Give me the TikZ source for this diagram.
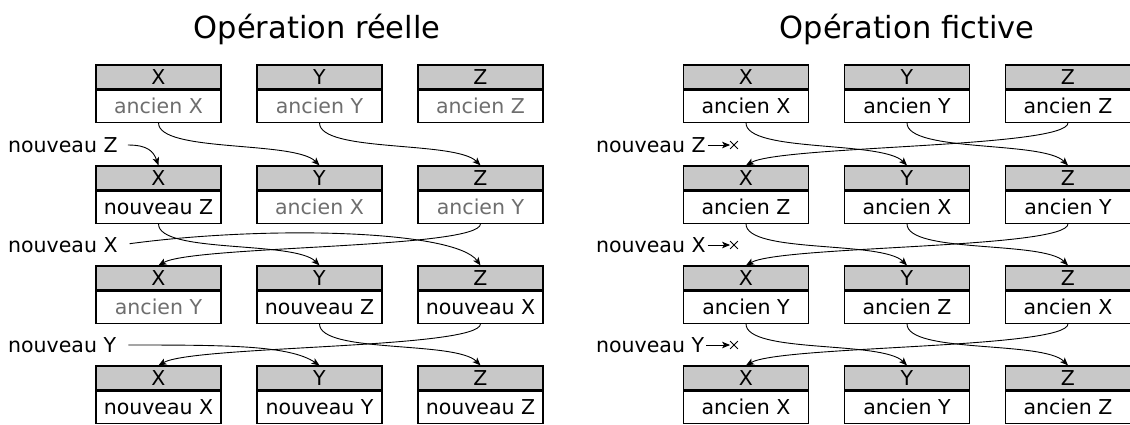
\documentclass[tikz,border=0pt]{standalone}
\usepackage{fontspec}
\setmainfont{DejaVu Sans}
\usetikzlibrary{positioning,arrows.meta,shapes.misc}
\definecolor{fondtete}{RGB}{200,200,200}
\definecolor{gristexte}{RGB}{110,110,110}
\newcommand{\vieux}[1]{\textcolor{gristexte}{#1}}
\begin{document}
\begin{tikzpicture}[x=1pt,y=1pt,
    entete/.style={draw,line width=1.2pt,fill=fondtete,minimum width=125pt,minimum height=24pt,inner sep=0pt,font=\fontsize{20.5}{24}\selectfont},
    contenu/.style={draw,line width=1.2pt,fill=white,minimum width=125pt,minimum height=32pt,inner sep=0pt,font=\fontsize{20.5}{24}\selectfont},
    etiquette/.style={anchor=west,inner sep=2pt,font=\fontsize{20.5}{24}\selectfont},
    titre/.style={anchor=base,inner sep=0pt,font=\fontsize{30.5}{36}\selectfont},
    croix/.style={cross out,draw,line width=0.8pt,minimum size=7pt,inner sep=0pt},
    fleche/.style={line width=0.9pt,-{Stealth[length=8pt,width=6.5pt,inset=2pt]}}]
    \useasboundingbox (0,0) rectangle (1130,-424);
    \node[titre] (tr) at (317,-38) {Opération réelle};
    \node[titre] (tf) at (907,-38) {Opération fictive};
    \foreach \lig/\y in {1/77,2/178,3/278,4/378}
        \foreach \col/\dx/\lettre in {x/0/X,y/161/Y,z/322/Z} {
            \node[entete] (r\lig\col-h) at (158.5+\dx,-\y) {\lettre};
            \node[entete] (f\lig\col-h) at (746+\dx,-\y) {\lettre};
        }
    \foreach \n/\t in {r1x/\vieux{ancien X},r1y/\vieux{ancien Y},r1z/\vieux{ancien Z},
        r2x/nouveau Z,r2y/\vieux{ancien X},r2z/\vieux{ancien Y},
        r3x/\vieux{ancien Y},r3y/nouveau Z,r3z/nouveau X,
        r4x/nouveau X,r4y/nouveau Y,r4z/nouveau Z,
        f1x/ancien X,f1y/ancien Y,f1z/ancien Z,
        f2x/ancien Z,f2y/ancien X,f2z/ancien Y,
        f3x/ancien Y,f3y/ancien Z,f3z/ancien X,
        f4x/ancien X,f4y/ancien Y,f4z/ancien Z}
        \node[contenu,below=0pt of \n-h] (\n) {\t};
    \node[etiquette] (rz) at (6,-145) {nouveau Z};
    \node[etiquette] (rx) at (6,-245) {nouveau X};
    \node[etiquette] (ry) at (6,-345) {nouveau Y};
    \draw[fleche,shorten <=8pt] (rz.east) .. controls +(28,0) and +(-5,14) .. (r2x-h.north);
    \draw[fleche] (r1x.south) .. controls +(0,-30) and +(-25,25) .. (r2y-h.north);
    \draw[fleche] (r1y.south) .. controls +(0,-30) and +(-25,25) .. (r2z-h.north);
    \draw[fleche,shorten <=10pt] (rx.east) .. controls +(150,20) and +(-25,35) .. (r3z-h.north);
    \draw[fleche] (r2x.south) .. controls +(0,-30) and +(-25,25) .. (r3y-h.north);
    \draw[fleche] (r2z.south) .. controls +(0,-25) and +(35,20) .. (r3x-h.north);
    \draw[fleche,shorten <=10pt] (ry.east) .. controls +(110,0) and +(-30,20) .. (r4y-h.north);
    \draw[fleche] (r3y.south) .. controls +(0,-30) and +(-25,25) .. (r4z-h.north);
    \draw[fleche] (r3z.south) .. controls +(0,-25) and +(35,20) .. (r4x-h.north);
    \foreach \v/\k in {Z/145,X/245,Y/345} {
        \node[etiquette] (f\v) at (594,-\k) {nouveau \v};
        \node[croix] (f\v-k) at (734,-\k) {};
        \draw[fleche] (f\v) -- (f\v-k);
    }
    \foreach \a/\b in {1/2,2/3,3/4} {
        \draw[fleche] (f\a x.south) .. controls +(0,-30) and +(-25,25) .. (f\b y-h.north);
        \draw[fleche] (f\a y.south) .. controls +(0,-30) and +(-25,25) .. (f\b z-h.north);
        \draw[fleche] (f\a z.south) .. controls +(0,-25) and +(35,20) .. (f\b x-h.north);
    }
\end{tikzpicture}
\end{document}
